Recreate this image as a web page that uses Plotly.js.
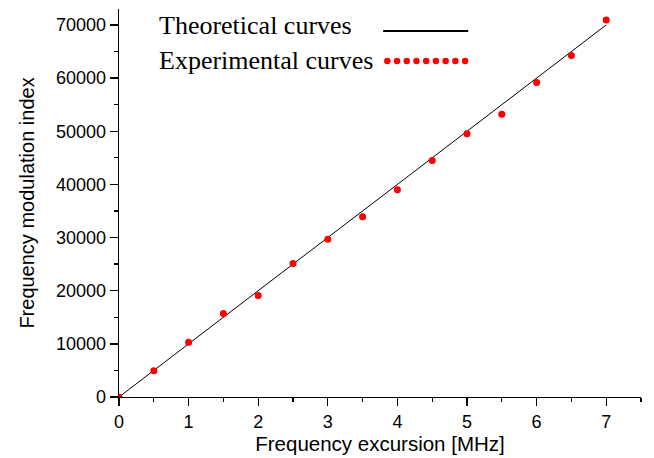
<!DOCTYPE html>
<html>
<head>
<meta charset="utf-8">
<script src="https://cdn.plot.ly/plotly-3.0.1.min.js"></script>
<style>html,body{margin:0;padding:0;background:#fff;}#chart{width:654px;height:458px;}</style>
</head>
<body>
<div id="chart"></div>
<script>
// Data
const expX = [0, 0.5, 1, 1.5, 2, 2.5, 3, 3.5, 4, 4.5, 5, 5.5, 6, 6.5, 7];
const expY = [0, 4950, 10300, 15700, 19100, 25100, 29700, 33900, 39000, 44500, 49550, 53200, 59150, 64250, 70950];
const theoX = [0, 7];
const theoY = [0, 70000];
const legendLabels = ["Theoretical curves", "Experimental curves"];
const xTitle = "Frequency excursion [MHz]";
const yTitle = "Frequency modulation index";

// legend glyph for the dotted sample (9 dots)
const nDots = 9;
const dotX = [], dotY = [];
for (let i = 0; i < nDots; i++) { dotX.push(0.514 + i * (0.663 - 0.514) / (nDots - 1)); dotY.push(0.866); }

const traces = [
  {x: theoX, y: theoY, mode: 'lines', line: {color: '#000', width: 1}, hoverinfo: 'skip', showlegend: false},
  {x: expX, y: expY, mode: 'markers', marker: {color: '#ff0000', size: 7}, cliponaxis: true, showlegend: false},
  {x: dotX, y: dotY, xaxis: 'x2', yaxis: 'y2', mode: 'markers', marker: {color: '#ff0000', size: 6.5}, showlegend: false, hoverinfo: 'skip'}
];

const sans = 'Liberation Sans, Arial, sans-serif';
const axisCommon = {
  showgrid: false, zeroline: false, showline: true, linecolor: '#000', linewidth: 1.3,
  ticks: 'outside', ticklen: 8, tickwidth: 1.3, tickcolor: '#000',
  tickfont: {family: sans, size: 18, color: '#000'},
  tickformat: 'd', mirror: false
};

const layout = {
  width: 654, height: 458,
  margin: {l: 119, r: 13, t: 9, b: 61},
  paper_bgcolor: '#fff', plot_bgcolor: '#fff',
  showlegend: false,
  xaxis: Object.assign({}, axisCommon, {
    range: [0, 7.5], dtick: 1, tick0: 0,
    minor: {dtick: 0.5, ticks: 'outside', ticklen: 4, tickcolor: '#000', tickwidth: 1.3},
    title: {text: xTitle, font: {family: sans, size: 20.5, color: '#000'}, standoff: 5}
  }),
  yaxis: Object.assign({}, axisCommon, {
    range: [0, 73000], dtick: 10000, tick0: 0,
    minor: {dtick: 5000, ticks: 'outside', ticklen: 4, tickcolor: '#000', tickwidth: 1.3},
    title: {text: yTitle, font: {family: sans, size: 20, color: '#000'}, standoff: 16}
  }),
  xaxis2: {overlaying: 'x', range: [0, 1], visible: false, fixedrange: true},
  yaxis2: {overlaying: 'y', range: [0, 1], visible: false, fixedrange: true},
  shapes: [
    {type: 'line', xref: 'paper', yref: 'paper', x0: 0.506, x1: 0.669, y0: 0.943, y1: 0.943, line: {color: '#000', width: 2}}
  ],
  annotations: [
    {text: legendLabels[0], xref: 'paper', yref: 'paper', x: 0.072, y: 0.958, xanchor: 'left', yanchor: 'middle', showarrow: false,
     font: {family: 'Liberation Serif, Times New Roman, serif', size: 26, color: '#000'}},
    {text: legendLabels[1], xref: 'paper', yref: 'paper', x: 0.072, y: 0.868, xanchor: 'left', yanchor: 'middle', showarrow: false,
     font: {family: 'Liberation Serif, Times New Roman, serif', size: 26, color: '#000'}}
  ]
};

Plotly.newPlot('chart', traces, layout, {displayModeBar: false, staticPlot: true});
</script>
</body>
</html>
